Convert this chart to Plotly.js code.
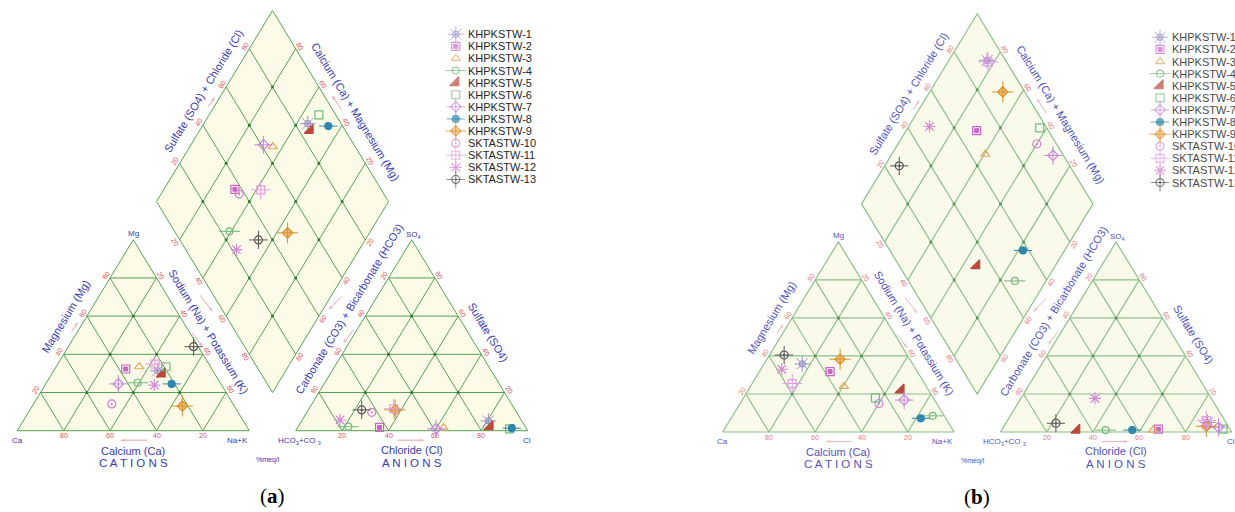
<!DOCTYPE html>
<html>
<head>
<meta charset="utf-8">
<script src="https://cdn.plot.ly/plotly-3.0.1.min.js"></script>
<style>
  html, body { margin: 0; padding: 0; background: #ffffff; }
  #chart { width: 1235px; height: 512px; }
</style>
</head>
<body>
<div id="chart"></div>
<script>
// ---- Sample names ----
const samples = ['KHPKSTW-1','KHPKSTW-2','KHPKSTW-3','KHPKSTW-4','KHPKSTW-5','KHPKSTW-6','KHPKSTW-7',
                 'KHPKSTW-8','KHPKSTW-9','SKTASTW-10','SKTASTW-11','SKTASTW-12','SKTASTW-13'];

// ---- Panel (a): major ions, % meq/l ----
const caA   = [23.8, 37.1, 30.7, 35.6, 22.7, 19.2, 44.2, 21.2, 22.4, 52.3, 23.2, 29.0,  2.0];
const mgA   = [31.4, 32.3, 33.5, 25.1, 29.7, 33.5, 24.5, 24.5, 12.9, 14.0, 34.9, 23.9, 44.0];
const nakA  = [44.8, 30.6, 35.8, 39.3, 47.6, 47.3, 31.3, 54.3, 64.7, 33.7, 41.9, 47.1, 54.0];
const hco3A = [14.4, 63.0, 35.5, 76.3, 15.2,  7.3, 39.0,  6.2, 51.7, 62.4, 52.0, 78.1, 66.1];
const so4A  = [ 5.1,  1.7,  1.5,  2.1,  2.1,  1.0,  1.0,  1.3, 10.9,  9.6, 11.5,  5.6, 10.9];
const clA   = [80.5, 35.3, 63.0, 21.6, 82.7, 91.7, 60.0, 92.5, 37.4, 28.0, 36.5, 16.3, 23.0];

// ---- Panel (b): major ions, % meq/l ----
const caB   = [47.7, 37.7, 35.6,  5.0, 11.9, 25.0, 13.2, 10.8, 30.1, 25.0, 57.2, 58.0, 53.2];
const mgB   = [35.8, 31.8, 24.0,  8.5, 22.1, 18.0, 16.8,  7.2, 38.3, 15.0, 25.5, 33.0, 40.5];
const nakB  = [16.5, 30.5, 40.4, 86.5, 66.0, 57.0, 70.0, 82.0, 31.6, 60.0, 17.3,  9.0,  6.3];
const hco3B = [ 8.0, 31.0, 33.5, 54.0, 66.5,  3.0,  4.5, 42.5,  9.5,  8.5,  8.0, 50.3, 73.7];
const so4B  = [ 5.0,  1.5,  1.0,  1.0,  1.0,  1.5,  2.5,  1.0,  3.0,  4.0,  6.0, 17.7,  4.6];
const clB   = [87.0, 67.5, 65.5, 45.0, 32.5, 95.5, 93.0, 56.5, 87.5, 87.5, 86.0, 32.0, 21.7];

// ---- Tick values on every scale ----
const tickFractions = [0.2, 0.4, 0.6, 0.8];
const tickTexts = ['20', '40', '60', '80'];

// ---- Marker styling per sample ----
const symbols  = ['circle-open','square-open','triangle-up-open','circle-open','triangle-se','square-open',
                  'diamond-open','circle','diamond','circle-open-dot','square-open','asterisk-open','circle-open-dot'];
const sizes    = [6, 8, 8, 7, 10, 8, 8, 7, 8, 8, 8, 10, 8];
const overlays = ['asterisk-open','square',null,'line-ew-open',null,null,'cross-thin-open','line-ew-open',
                  'cross-thin-open',null,'cross-thin-open','x-thin-open','cross-thin-open'];
const overlaySizes = [13, 4, 0, 15, 0, 0, 13, 13, 15, 0, 14, 8, 13];
const colors   = ['#9a8fc6','#c766c7','#e3a75a','#72b87a','#b84a3c','#6cbf7c','#c686dc',
                  '#2f87ad','#f0be78','#d37dd6','#e29ce2','#d58ad8','#555555'];
const overlayColors = ['#9a8fc6','#c766c7',null,'#72b87a',null,null,'#c686dc','#2f87ad','#d8902a',
                       null,'#e29ce2','#d58ad8','#555555'];

// ---- Piper geometry in plot units (triangle side = 100) ----
const SQ = Math.sqrt(3) / 2;
const GAP = 20;
const CAT = { L: [0, 0], R: [100, 0], T: [50, 100 * SQ] };
const ANI = { L: [100 + GAP, 0], R: [200 + GAP, 0], T: [150 + GAP, 100 * SQ] };
const DIA = { L: [50 + GAP / 2, (100 + GAP) * SQ], B: [100 + GAP / 2, GAP * SQ],
              T: [100 + GAP / 2, (200 + GAP) * SQ], R: [150 + GAP / 2, (100 + GAP) * SQ] };

const PANELS = [
  { tag: 'a', xa: 'x', ya: 'y', dom: [0, 0.5], x0: 17.3, y0: 430.7, sx: 2.32, sy: 2.205,
    data: { ca: caA, mg: mgA, nak: nakA, hco3: hco3A, so4: so4A, cl: clA },
    grid: '#56a156', gridW: 1, dot: '#2f7a2f', fill: '#fbfbe8', label: '#3a3ab4',
    tick: '#dd5555', legendText: '#262626', arrow: '#e09a9a' },
  { tag: 'b', xa: 'x2', ya: 'y2', dom: [0.5, 1], x0: 722.7, y0: 432, sx: 2.314, sy: 2.195,
    data: { ca: caB, mg: mgB, nak: nakB, hco3: hco3B, so4: so4B, cl: clB },
    grid: '#8cbf8c', gridW: 1.2, dot: '#5f935f', fill: '#fafaea', label: '#5252c0',
    tick: '#e27a7a', legendText: '#4a4a4a', arrow: '#e6adad' }
];

const FONT = 'Liberation Sans, Arial, sans-serif';
const W = 1235, H = 512;

function tern(tri, l, r, t) {
  const s = l + r + t;
  return [(l * tri.L[0] + r * tri.R[0] + t * tri.T[0]) / s,
          (l * tri.L[1] + r * tri.R[1] + t * tri.T[1]) / s];
}
function diamondPt(a, b) {
  return [DIA.L[0] + a * (DIA.B[0] - DIA.L[0]) + b * (DIA.T[0] - DIA.L[0]),
          DIA.L[1] + a * (DIA.B[1] - DIA.L[1]) + b * (DIA.T[1] - DIA.L[1])];
}
function toPx(P, p) { return [P.x0 + p[0] * P.sx, P.y0 - p[1] * P.sy]; }
function toUnit(P, X, Y) { return [(X - P.x0) / P.sx, (P.y0 - Y) / P.sy]; }

const traces = [];
const annotations = [];
const layoutAxes = {};

PANELS.forEach((P, pi) => {
  const xKey = pi === 0 ? 'xaxis' : 'xaxis2';
  const yKey = pi === 0 ? 'yaxis' : 'yaxis2';
  const pxL = P.dom[0] * W, pxR = P.dom[1] * W;
  layoutAxes[xKey] = { domain: P.dom, range: [(pxL - P.x0) / P.sx, (pxR - P.x0) / P.sx],
                       visible: false, fixedrange: true, anchor: P.ya };
  layoutAxes[yKey] = { domain: [0, 1], range: [(P.y0 - H) / P.sy, P.y0 / P.sy],
                       visible: false, fixedrange: true, anchor: P.xa };
  const base = { xaxis: P.xa, yaxis: P.ya, hoverinfo: 'skip', showlegend: false };

  // filled outlines
  const shapes = [
    [CAT.L, CAT.R, CAT.T],
    [ANI.L, ANI.R, ANI.T],
    [DIA.L, DIA.B, DIA.R, DIA.T]
  ];
  shapes.forEach(poly => {
    const pts = poly.concat([poly[0]]);
    traces.push(Object.assign({}, base, {
      type: 'scatter', mode: 'lines', x: pts.map(p => p[0]), y: pts.map(p => p[1]),
      fill: 'toself', fillcolor: P.fill, line: { color: P.grid, width: P.gridW }
    }));
  });

  // grid lines
  const gx = [], gy = [];
  const seg = (p, q) => { gx.push(p[0], q[0], null); gy.push(p[1], q[1], null); };
  tickFractions.forEach(f => {
    [CAT, ANI].forEach(tri => {
      seg(tern(tri, 1 - f, 0, f), tern(tri, 0, 1 - f, f));
      seg(tern(tri, 1 - f, f, 0), tern(tri, 0, f, 1 - f));
      seg(tern(tri, f, 1 - f, 0), tern(tri, f, 0, 1 - f));
    });
    seg(diamondPt(f, 0), diamondPt(f, 1));
    seg(diamondPt(0, f), diamondPt(1, f));
  });
  traces.push(Object.assign({}, base, {
    type: 'scatter', mode: 'lines', x: gx, y: gy, line: { color: P.grid, width: P.gridW }
  }));

  // grid intersection dots
  const dx = [], dy = [];
  [CAT, ANI].forEach(tri => {
    for (let i = 1; i <= 3; i++) for (let j = 1; j <= 4 - i; j++) {
      const k = 5 - i - j;
      if (k >= 1) { const p = tern(tri, i, j, k); dx.push(p[0]); dy.push(p[1]); }
    }
  });
  tickFractions.forEach(a => tickFractions.forEach(b => {
    const p = diamondPt(a, b); dx.push(p[0]); dy.push(p[1]);
  }));
  traces.push(Object.assign({}, base, {
    type: 'scatter', mode: 'markers', x: dx, y: dy,
    marker: { size: 3, color: P.dot }
  }));

  // small direction arrows next to the titles
  const arrows = [
    [[55.9, -4.3], [44.3, -4.3]], [[164.0, -4.3], [175.6, -4.3]],
    [[23.4, 44.9], [26.3, 49.4]],
    [[78.7, 61.5], [84.3, 53.8]], [[75.3, 44.3], [80.0, 38.0]],
    [[203.7, 43.4], [198.5, 48.8]],
    [[139.8, 60.8], [134.1, 54.7]], [[144.8, 45.7], [140.5, 39.6]],
    [[82.3, 146.9], [85.2, 151.5]], [[139.8, 145.4], [135.5, 152.2]]
  ];
  arrows.forEach(([tail, head]) => traces.push(Object.assign({}, base, {
    type: 'scatter', mode: 'lines+markers', cliponaxis: false,
    x: [tail[0], head[0]], y: [tail[1], head[1]],
    line: { color: P.arrow, width: 0.9 },
    marker: { symbol: ['circle', 'arrow'], size: [0, 5], angleref: 'previous', color: P.arrow,
              line: { width: 0 } }
  })));

  // sample markers: cation, anion and diamond position for each sample
  const D = P.data;
  samples.forEach((name, i) => {
    const cat = tern(CAT, D.ca[i], D.nak[i], D.mg[i]);
    const ani = tern(ANI, D.hco3[i], D.cl[i], D.so4[i]);
    const a = D.nak[i] / (D.ca[i] + D.mg[i] + D.nak[i]);
    const b = (D.so4[i] + D.cl[i]) / (D.hco3[i] + D.so4[i] + D.cl[i]);
    const dia = diamondPt(a, b);
    const xs = [cat[0], ani[0], dia[0]], ys = [cat[1], ani[1], dia[1]];
    traces.push(Object.assign({}, base, {
      type: 'scatter', mode: 'markers', name: name, x: xs, y: ys,
      marker: { symbol: symbols[i], size: sizes[i], color: colors[i],
                line: { color: i === 8 ? '#d8902a' : colors[i], width: 1.2 } }
    }));
    if (overlays[i]) {
      traces.push(Object.assign({}, base, {
        type: 'scatter', mode: 'markers', x: xs, y: ys,
        marker: { symbol: overlays[i], size: overlaySizes[i], color: overlayColors[i],
                  line: { color: overlayColors[i], width: 1 } }
      }));
    }
  });

  // legend: symbol column + names
  const legU = 189, legTextU = 193.4, legV0 = 179.8, legStep = 12.1 / P.sy;
  const lx = samples.map(() => legU), ly = samples.map((_, i) => legV0 - i * legStep);
  traces.push(Object.assign({}, base, {
    type: 'scatter', mode: 'markers', x: lx, y: ly, cliponaxis: false,
    marker: { symbol: symbols, size: sizes, color: colors,
              line: { color: colors.map((c, i) => i === 8 ? '#d8902a' : c), width: 1.2 } }
  }));
  const ovIdx = samples.map((_, i) => i).filter(i => overlays[i]);
  traces.push(Object.assign({}, base, {
    type: 'scatter', mode: 'markers', x: ovIdx.map(() => legU), y: ovIdx.map(i => ly[i]),
    cliponaxis: false,
    marker: { symbol: ovIdx.map(i => overlays[i]), size: ovIdx.map(i => overlaySizes[i]),
              color: ovIdx.map(i => overlayColors[i]),
              line: { color: ovIdx.map(i => overlayColors[i]), width: 1 } }
  }));
  samples.forEach((name, i) => {
    annotations.push({ xref: P.xa, yref: P.ya, x: legTextU, y: ly[i], xanchor: 'left', yanchor: 'middle',
      text: name, showarrow: false, font: { family: FONT, size: 11, color: P.legendText } });
  });

  // tick labels along each edge
  const centroid = (pts) => [pts.reduce((s, p) => s + p[0], 0) / pts.length,
                             pts.reduce((s, p) => s + p[1], 0) / pts.length];
  const catC = centroid([CAT.L, CAT.R, CAT.T]);
  const aniC = centroid([ANI.L, ANI.R, ANI.T]);
  const diaC = centroid([DIA.L, DIA.B, DIA.R, DIA.T]);
  const rev = tickTexts.slice().reverse();
  const edges = [
    [CAT.L, CAT.R, catC, rev], [CAT.L, CAT.T, catC, tickTexts], [CAT.T, CAT.R, catC, tickTexts],
    [ANI.L, ANI.R, aniC, tickTexts], [ANI.T, ANI.L, aniC, tickTexts], [ANI.R, ANI.T, aniC, tickTexts],
    [DIA.L, DIA.T, diaC, tickTexts], [DIA.T, DIA.R, diaC, rev],
    [DIA.L, DIA.B, diaC, tickTexts], [DIA.R, DIA.B, diaC, tickTexts]
  ];
  edges.forEach(([A, B, C, texts]) => {
    const pa = toPx(P, A), pb = toPx(P, B), pc = toPx(P, C);
    const ex = pb[0] - pa[0], ey = pb[1] - pa[1], len = Math.hypot(ex, ey);
    let nx = -ey / len, ny = ex / len;
    const mx = (pa[0] + pb[0]) / 2, my = (pa[1] + pb[1]) / 2;
    if ((mx - pc[0]) * nx + (my - pc[1]) * ny < 0) { nx = -nx; ny = -ny; }
    let ang = Math.atan2(ey, ex) * 180 / Math.PI;
    if (ang > 90) ang -= 180;
    if (ang < -90) ang += 180;
    tickFractions.forEach((t, k) => {
      const u = toUnit(P, pa[0] + ex * t + nx * 5, pa[1] + ey * t + ny * 5);
      annotations.push({ xref: P.xa, yref: P.ya, x: u[0], y: u[1], text: texts[k], showarrow: false,
        textangle: Math.abs(ang) < 1 ? 0 : ang, font: { family: FONT, size: 7, color: P.tick } });
    });
  });

  // edge angle on screen for rotated titles
  const pL = toPx(P, CAT.L), pT = toPx(P, CAT.T);
  const slope = Math.atan2(pL[1] - pT[1], pT[0] - pL[0]) * 180 / Math.PI;

  const label = (u, v, text, size, extra) => annotations.push(Object.assign({
    xref: P.xa, yref: P.ya, x: u, y: v, text: text, showarrow: false,
    font: { family: FONT, size: size, color: P.label } }, extra || {}));

  // corner names
  label(50, 89.5, 'Mg', 8);
  label(0, -4.5, 'Ca', 8);
  label(95, -4.5, 'Na+K', 8);
  label(121.6, -4.5, 'HCO<sub>3</sub>+CO <sub>3</sub>', 8);
  label(219.6, -4.3, 'Cl', 8);
  label(170.6, 88.9, 'SO<sub>4</sub>', 8);
  label(108.2, -13.3, '%meq/l', 7);

  // axis titles
  label(49.9, -9.2, 'Calcium (Ca)', 11);
  label(49.9, -14.8, 'C A T I O N S', 11.5);
  label(170, -8.75, 'Chloride (Cl)', 11);
  label(170, -14.8, 'A N I O N S', 11.5);
  label(20.9, 52.1, 'Magnesium (Mg)', 11, { textangle: -slope });
  label(82.6, 44.9, 'Sodium (Na) + Potassium (K)', 11, { textangle: slope });
  label(203.3, 44.5, 'Sulfate (SO4)', 11, { textangle: slope });
  label(143.0, 55.2, 'Carbonate (CO3) + Bicarbonate (HCO3)', 11, { textangle: -slope });
  label(80.2, 154.1, 'Sulfate (SO4) + Chloride (Cl)', 11, { textangle: -slope });
  label(145.9, 144.7, 'Calcium (Ca) + Magnesium (Mg)', 11, { textangle: slope });

  // panel letter
  annotations.push({ xref: P.xa, yref: P.ya, x: 109.9, y: -29.8, showarrow: false,
    text: '(<b>' + P.tag + '</b>)', font: { family: 'Liberation Serif, Times New Roman, serif', size: 21, color: '#000' } });
});

const layout = Object.assign({
  width: W, height: H,
  margin: { l: 0, r: 0, t: 0, b: 0, pad: 0 },
  paper_bgcolor: '#ffffff', plot_bgcolor: 'rgba(0,0,0,0)',
  showlegend: false,
  annotations: annotations
}, layoutAxes);

Plotly.newPlot('chart', traces, layout, { staticPlot: true, displayModeBar: false });
</script>
</body>
</html>
